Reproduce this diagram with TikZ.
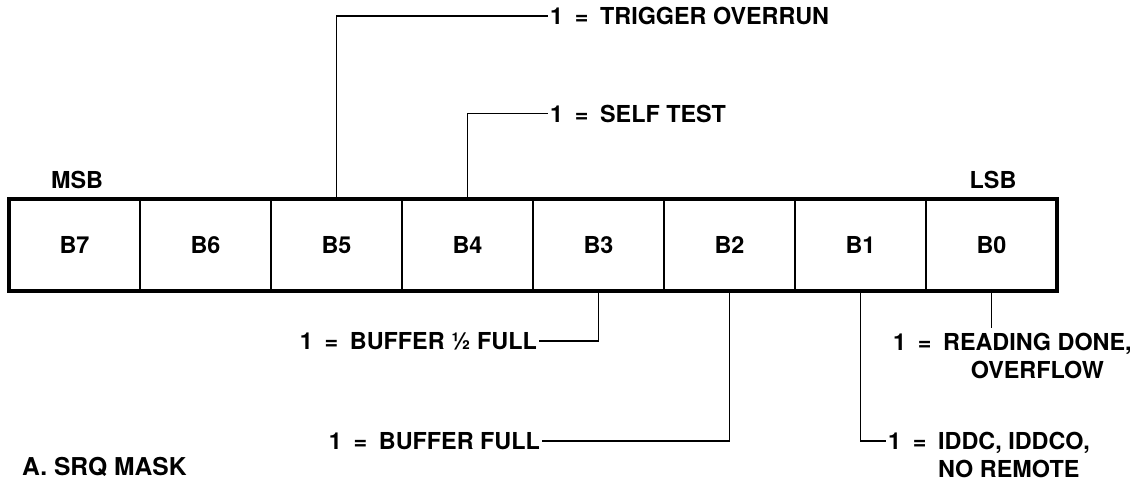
\documentclass[tikz,border=0pt]{standalone}
\usepackage{fontspec}
\setmainfont{TeX Gyre Heros}
\usetikzlibrary{positioning}

\begin{document}
\begin{tikzpicture}[
            bitcell/.style={rectangle, draw, line width=1.1pt, minimum width=2.62cm, minimum height=1.84cm, inner sep=0pt, outer sep=0pt, font=\bfseries\fontsize{13.3}{16}\selectfont},
            lbl/.style={inner sep=1pt, font=\bfseries\fontsize{13.3}{16}\selectfont},
            conn/.style={line width=1.1pt}
        ]
            \useasboundingbox (0,0) rectangle (22.9,-9.64);

            % Register cells, MSB to LSB
            \node[bitcell] (b7) at (1.49,-4.9) {B7};
            \node[bitcell, right=0pt of b7] (b6) {B6};
            \node[bitcell, right=0pt of b6] (b5) {B5};
            \node[bitcell, right=0pt of b5] (b4) {B4};
            \node[bitcell, right=0pt of b4] (b3) {B3};
            \node[bitcell, right=0pt of b3] (b2) {B2};
            \node[bitcell, right=0pt of b2] (b1) {B1};
            \node[bitcell, right=0pt of b1] (b0) {B0};
            \draw[line width=1.8pt] (b7.north west) rectangle (b0.south east);

            \node[lbl] (msb) at (1.54,-3.60) {MSB};
            \node[lbl] (lsb) at (19.86,-3.60) {LSB};

            % Upper flags
            \node[lbl, anchor=west] (overrun) at (10.96,-0.32) {1\enspace=\enspace TRIGGER OVERRUN};
            \node[lbl, anchor=west] (selftest) at (10.96,-2.27) {1\enspace=\enspace SELF TEST};

            % Lower flags
            \node[lbl, anchor=east] (half) at (10.78,-6.82) {1\enspace=\enspace BUFFER ½ FULL};
            \node[lbl, anchor=east] (full) at (10.84,-8.82) {1\enspace=\enspace BUFFER FULL};
            \node[lbl, anchor=base west] (iddc) at (17.72,-8.98) {1\enspace=\enspace\begin{tabular}[t]{@{}l@{}}IDDC, IDDCO,\\NO REMOTE\end{tabular}};
            \node[lbl, anchor=base west] (done) at (17.82,-7.0) {1\enspace=\enspace\begin{tabular}[t]{@{}c@{}}READING DONE,\\OVERFLOW\end{tabular}};

            \node[lbl, anchor=base west, font=\bfseries\fontsize{14}{17}\selectfont] (caption) at (0.40,-9.50) {A. SRQ MASK};

            % Connections
            \draw[conn] (b5.north) |- (overrun.west);
            \draw[conn] (b4.north) |- (selftest.west);
            \draw[conn] (b3.south) |- (half.east);
            \draw[conn] (b2.south) |- (full.east);
            \draw[conn] (b1.south) |- ([yshift=0.16cm]iddc.base west);
            \draw[conn] (b0.south) -- (b0.south |- done.north);
        \end{tikzpicture}
\end{document}
